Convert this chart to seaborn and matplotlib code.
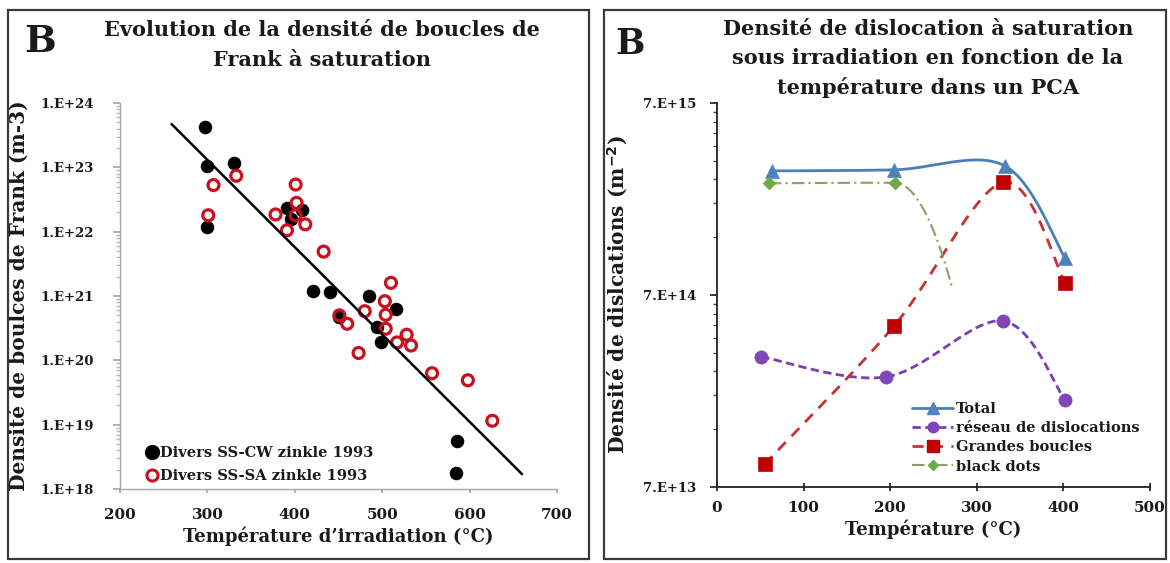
import numpy as np
import matplotlib
matplotlib.use("Agg")
import matplotlib.pyplot as plt
import seaborn as sns
import pandas as pd
from matplotlib.patches import Rectangle
from matplotlib.lines import Line2D
from matplotlib.ticker import FixedLocator, FixedFormatter, LogLocator, NullFormatter

# ---------------- data : left panel ----------------
cw_temp = [297, 299, 330, 300, 391, 408, 396, 421, 440, 450, 485, 516, 494, 499, 586, 584]
cw_density = [4.2e23, 1.05e23, 1.15e23, 1.2e22, 2.3e22, 2.2e22, 1.55e22, 1.2e21, 1.15e21,
              4.8e20, 1.0e21, 6.2e20, 3.3e20, 1.95e20, 5.6e18, 1.8e18]
sa_temp = [333, 307, 301, 401, 378, 402, 401, 412, 391, 433, 510, 503, 480, 451, 460, 504,
           504, 528, 517, 533, 473, 557, 598, 626]
sa_density = [7.4e22, 5.3e22, 1.8e22, 5.4e22, 1.85e22, 2.8e22, 1.8e22, 1.3e22, 1.05e22, 4.9e21,
              1.6e21, 8.3e20, 5.8e20, 5.0e20, 3.7e20, 5.1e20, 3.1e20, 2.5e20, 1.9e20, 1.7e20,
              1.3e20, 6.3e19, 4.9e19, 1.15e19]
trend_temp = [259, 660]
trend_density = [4.7e23, 1.7e18]
left_xticks = [200, 300, 400, 500, 600, 700]
left_yticks = [1e18, 1e19, 1e20, 1e21, 1e22, 1e23, 1e24]
left_ylabels = ["1.E+18", "1.E+19", "1.E+20", "1.E+21", "1.E+22", "1.E+23", "1.E+24"]

# ---------------- data : right panel ----------------
total_temp = [63, 204, 332, 402]
total_density = [3.1e15, 3.14e15, 3.3e15, 1.09e15]
reseau_temp = [51, 195, 330, 402]
reseau_density = [3.34e14, 2.62e14, 5.13e14, 1.98e14]
grandes_temp = [55, 204, 330, 402]
grandes_density = [9.2e13, 4.8e14, 2.7e15, 8.1e14]
black_temp = [60, 205, 272]
black_density = [2.67e15, 2.69e15, 7.5e14]
right_xticks = [0, 100, 200, 300, 400, 500]
right_yticks = [7e13, 7e14, 7e15]
right_ylabels = ["7.E+13", "7.E+14", "7.E+15"]

W, H = 1170, 563
sns.set_theme(style="white")
plt.rcParams['font.family'] = ['DejaVu Serif', 'DejaVu Sans']
plt.rcParams['font.weight'] = 'bold'
plt.rcParams['axes.labelweight'] = 'bold'
plt.rcParams['mathtext.default'] = 'bf'
TXT = '#1a1a1a'

fig = plt.figure(figsize=(W / 100, H / 100), dpi=100)


def fx(px):
    return px / W


def fy(py):
    return 1 - py / H


def smooth(xs, ys, n=50):
    """Excel-like smoothed line (uniform Catmull-Rom) in (x, log10 y) space."""
    x = np.asarray(xs, float)
    y = np.log10(np.asarray(ys, float))
    P = np.column_stack([x, y])
    P = np.vstack([P[0], P, P[-1]])
    out = []
    t = np.linspace(0, 1, n)[:, None]
    for i in range(1, len(P) - 2):
        p0, p1, p2, p3 = P[i - 1], P[i], P[i + 1], P[i + 2]
        c1 = p1 + (p2 - p0) / 6
        c2 = p2 - (p3 - p1) / 6
        seg = ((1 - t) ** 3) * p1 + 3 * ((1 - t) ** 2) * t * c1 + 3 * (1 - t) * t ** 2 * c2 + t ** 3 * p2
        out.append(seg)
    out = np.vstack(out)
    return pd.DataFrame({"T": out[:, 0], "D": 10 ** out[:, 1]})


def smooth_monotone(xs, ys, n=50):
    """Monotone cubic Hermite in (x, log10 y) space (flat at local extrema)."""
    x = np.asarray(xs, float)
    y = np.log10(np.asarray(ys, float))
    d = np.diff(y) / np.diff(x)
    m = np.zeros_like(y)
    for k in range(1, len(y) - 1):
        if d[k - 1] * d[k] > 0:
            m[k] = 2 / (1 / d[k - 1] + 1 / d[k])
    m[0] = 2 * d[0] - m[1]
    m[-1] = 2 * d[-1] - m[-2]
    tt, vv = [], []
    for k in range(len(x) - 1):
        h = x[k + 1] - x[k]
        s = np.linspace(0, 1, n)
        h00 = 2 * s ** 3 - 3 * s ** 2 + 1
        h10 = s ** 3 - 2 * s ** 2 + s
        h01 = -2 * s ** 3 + 3 * s ** 2
        h11 = s ** 3 - s ** 2
        tt.append(x[k] + s * h)
        vv.append(h00 * y[k] + h10 * h * m[k] + h01 * y[k + 1] + h11 * h * m[k + 1])
    return pd.DataFrame({"T": np.concatenate(tt), "D": 10 ** np.concatenate(vv)})


# ---------------- panel frames ----------------
for x0, x1 in [(8, 589), (604, 1166)]:
    fig.add_artist(Rectangle((fx(x0), fy(559)), fx(x1 - x0), (559 - 10) / H,
                             transform=fig.transFigure, fill=False, ec='#3a3a3a', lw=1.6))

# ---------------- left panel ----------------
axL = fig.add_axes([fx(120), fy(489), fx(557 - 120), (489 - 103) / H])
df_cw = pd.DataFrame({"T": cw_temp, "D": cw_density})
df_sa = pd.DataFrame({"T": sa_temp, "D": sa_density})
df_tr = pd.DataFrame({"T": trend_temp, "D": trend_density})
sns.scatterplot(data=df_cw, x="T", y="D", ax=axL, s=95, color='black', edgecolor='black',
                linewidth=0, zorder=3, legend=False)
sns.scatterplot(data=df_sa, x="T", y="D", ax=axL, s=62, facecolor='none', edgecolor='#c8101e',
                linewidth=2.3, zorder=4, legend=False)
sns.lineplot(data=df_tr, x="T", y="D", ax=axL, color='black', lw=1.8, zorder=5, legend=False)
axL.set_yscale('log')
axL.set_xlim(200, 700)
axL.set_ylim(1e18, 1e24)
axL.xaxis.set_major_locator(FixedLocator(left_xticks))
axL.yaxis.set_major_locator(FixedLocator(left_yticks))
axL.yaxis.set_major_formatter(FixedFormatter(left_ylabels))
axL.yaxis.set_minor_locator(LogLocator(base=10, subs=np.arange(2, 10)))
axL.yaxis.set_minor_formatter(NullFormatter())
for s in ['top', 'right']:
    axL.spines[s].set_visible(False)
for s in ['left', 'bottom']:
    axL.spines[s].set_color('#a8a8a8')
    axL.spines[s].set_linewidth(1.0)
axL.tick_params(axis='y', which='major', direction='out', length=5, color='#a8a8a8', left=True,
                labelsize=9.5, labelcolor=TXT, pad=14)
axL.tick_params(axis='y', which='minor', direction='out', length=3, color='#b8b8b8', left=True)
axL.tick_params(axis='x', which='major', direction='out', length=3, color='#a8a8a8', bottom=True,
                labelsize=11, labelcolor=TXT, pad=11)
axL.set_xlabel("Température d’irradiation (°C)", fontsize=13, color=TXT, labelpad=3)
axL.set_ylabel("Densité de boulces de Frank (m-3)", fontsize=14.5, color=TXT, labelpad=8)
axL.grid(False)
axL.set_facecolor('white')

hL = [Line2D([], [], ls='none', marker='o', markersize=10, mfc='black', mec='black'),
      Line2D([], [], ls='none', marker='o', markersize=8, mfc='none', mec='#c8101e', mew=2.2)]
axL.legend(hL, ["Divers SS-CW zinkle 1993", "Divers SS-SA zinkle 1993"], loc='upper left',
           bbox_to_anchor=(fx(140), fy(439)), bbox_transform=fig.transFigure, frameon=False,
           borderpad=0, handlelength=0.6, handletextpad=0.3, labelspacing=0.6,
           prop={'size': 10.5, 'weight': 'bold'}, labelcolor=TXT)

fig.text(fx(40), fy(41), "B", fontsize=27, ha='center', va='center', color=TXT, weight='bold')
fig.text(fx(322), fy(30), "Evolution de la densité de boucles de", fontsize=15, ha='center',
         va='center', color=TXT)
fig.text(fx(322), fy(60), "Frank à saturation", fontsize=15, ha='center', va='center', color=TXT)

# ---------------- right panel ----------------
axR = fig.add_axes([fx(717), fy(487), fx(1150 - 717), (487 - 103) / H])
series = [
    (total_temp, total_density, '#4a7ebb', '#4f81bd', '^', 10, '-', None, 2.0, [0, 1, 2, 3], smooth),
    (reseau_temp, reseau_density, '#7a3fb0', '#8046b8', 'o', 9.5, '--', (3, 1.6), 2.0, [0, 1, 2, 3], smooth),
    (grandes_temp, grandes_density, '#c43232', '#c00000', 's', 10, '--', (4, 3), 2.0, [0, 1, 2, 3], smooth),
    (black_temp, black_density, '#8d9f66', '#6fa84c', 'D', 6.5, '-.', (6, 2, 1, 2), 1.5, [0, 1], smooth_monotone),
]
for T, D, lc, mc, mk, ms, ls, dash, lw, mev, fn in series:
    sm = fn(T, D)
    sns.lineplot(data=sm, x="T", y="D", ax=axR, color=lc, lw=lw, sort=False,
                 legend=False, estimator=None)
    ln = axR.lines[-1]
    if dash is not None:
        ln.set_dashes(dash)
    pts = pd.DataFrame({"T": [T[i] for i in mev], "D": [D[i] for i in mev]})
    sns.scatterplot(data=pts, x="T", y="D", ax=axR, marker=mk, s=ms ** 2, color=mc,
                    edgecolor=mc, linewidth=0.5, zorder=4, legend=False)

axR.set_yscale('log')
axR.set_xlim(0, 500)
axR.set_ylim(7e13, 7e15)
axR.xaxis.set_major_locator(FixedLocator(right_xticks))
axR.yaxis.set_major_locator(FixedLocator(right_yticks))
axR.yaxis.set_major_formatter(FixedFormatter(right_ylabels))
axR.yaxis.set_minor_locator(FixedLocator([7e13 * k for k in range(2, 10)] + [7e14 * k for k in range(2, 10)]))
axR.yaxis.set_minor_formatter(NullFormatter())
for s in ['top', 'right']:
    axR.spines[s].set_visible(False)
for s in ['left', 'bottom']:
    axR.spines[s].set_color('#222222')
    axR.spines[s].set_linewidth(1.3)
axR.tick_params(axis='y', which='major', direction='out', length=5, color='#222222', left=True,
                labelsize=9.5, labelcolor=TXT, pad=10)
axR.tick_params(axis='y', which='minor', direction='out', length=3, color='#444444', left=True)
axR.tick_params(axis='x', which='major', direction='inout', length=6, color='#222222', bottom=True,
                labelsize=11, labelcolor=TXT, pad=7)
axR.set_xlabel("Température (°C)", fontsize=13, color=TXT, labelpad=3)
axR.set_ylabel("Densité de dislcations (m$^{-2}$)", fontsize=14.5, color=TXT, labelpad=9)
axR.grid(False)

hR = []
for T, D, lc, mc, mk, ms, ls, dash, lw, mev, fn in series:
    h = Line2D([], [], color=lc, lw=lw, ls=ls, marker=mk, markersize=ms * 0.8, mfc=mc, mec=mc)
    if dash is not None:
        h.set_dashes(dash)
    hR.append(h)
axR.legend(hR, ["Total", "réseau de dislocations", "Grandes boucles", "black dots"], loc='upper left',
           bbox_to_anchor=(fx(905), fy(395)), bbox_transform=fig.transFigure, frameon=False,
           borderpad=0, handlelength=2.8, handletextpad=0.2, labelspacing=0.35,
           prop={'size': 10.5, 'weight': 'bold'}, labelcolor=TXT)

fig.text(fx(630), fy(44), "B", fontsize=25, ha='center', va='center', color=TXT, weight='bold')
for i, t in enumerate(["Densité de dislocation à saturation", "sous irradiation en fonction de la",
                       "température dans un PCA"]):
    fig.text(fx(928), fy(29 + 29.5 * i), t, fontsize=15, ha='center', va='center', color=TXT)

fig.savefig("out.png", dpi=100, facecolor='white')
